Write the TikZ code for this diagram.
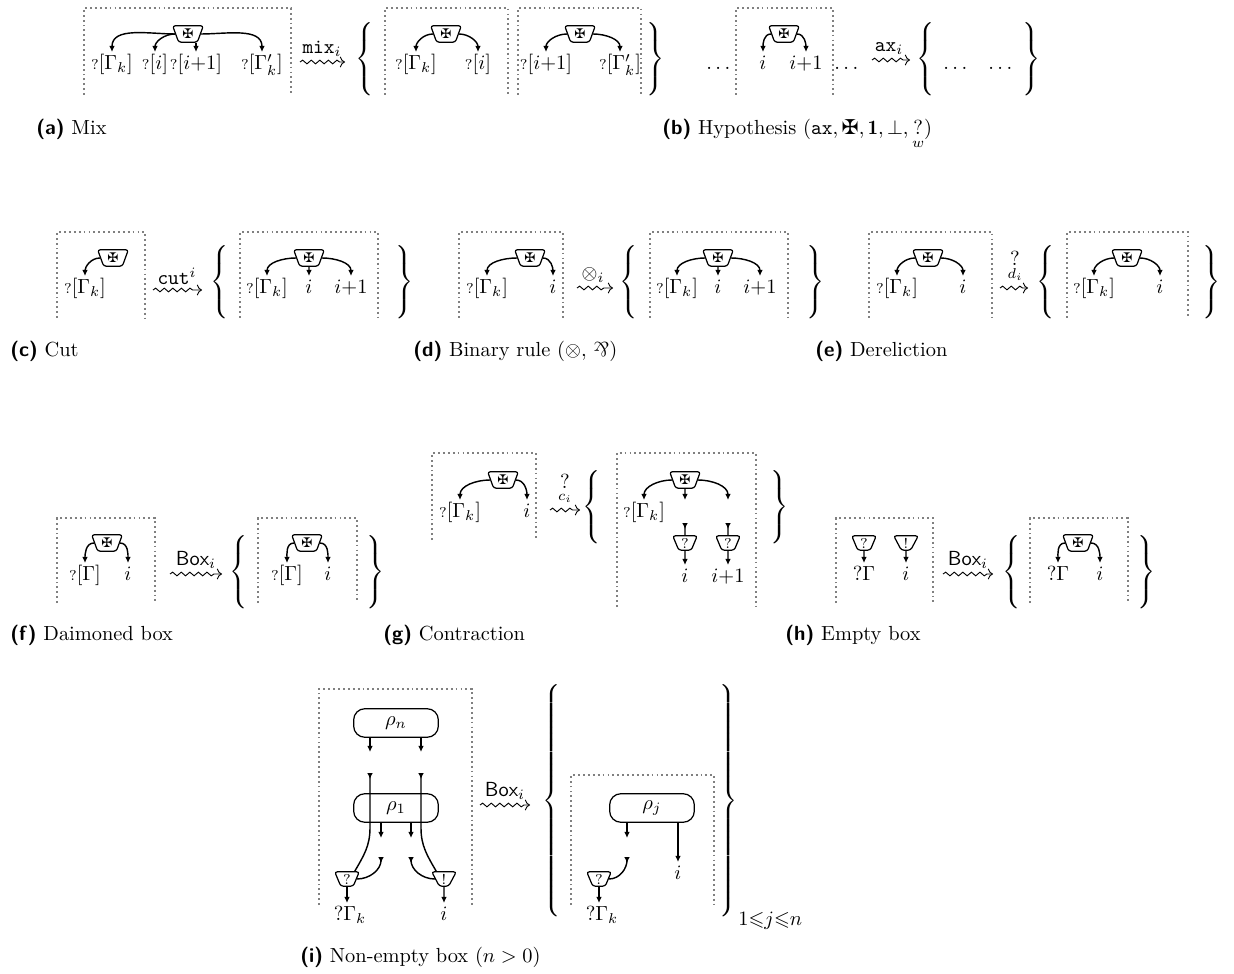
\documentclass[tikz,border=0pt]{standalone}
\usepackage{amsmath,amssymb}
\usepackage{graphicx}
\usepackage{fontspec}
\newfontfamily\dvfont{DejaVu Sans}
\usetikzlibrary{shapes.geometric,arrows.meta,decorations.pathmorphing}
\newcommand{\wq}{{\scriptstyle ?}}
\newcommand{\mcross}{{\dvfont ✠}}
\newcommand{\lbrc}[1]{$\left\{\vcenter{\hbox{\rule{0pt}{#1}}}\right.$}
\newcommand{\rbrc}[1]{$\left.\vcenter{\hbox{\rule{0pt}{#1}}}\right\}$}
\newcommand{\parrsym}{\rotatebox[origin=c]{180}{$\&$}}
\newcommand{\capl}[1]{\textsf{\textbf{(#1)}}}
\tikzset{
  dbox/.style={draw=gray, line width=0.9pt, dash pattern=on 0.9pt off 1.5pt},
  dai/.style={draw, trapezium, shape border rotate=180, trapezium stretches=true,
     trapezium left angle=70, trapezium right angle=70, minimum width=15pt, minimum height=8pt,
     inner sep=0pt, rounded corners=1.2pt, line width=0.6pt, font=\dvfont\fontsize{6.5}{6.5}\selectfont},
  cell/.style={draw, trapezium, shape border rotate=180, trapezium stretches=true,
     trapezium left angle=70, trapezium right angle=70, minimum width=12pt, minimum height=7pt,
     inner sep=0pt, rounded corners=1.2pt, line width=0.6pt, font=\scriptsize},
  lab/.style={anchor=north, inner sep=1pt, text height=7.5pt, text depth=2.5pt},
  wire/.style={line width=0.7pt, -{Latex[length=3pt,width=2.8pt]}},
  dang/.style={line width=0.7pt, {Latex[reversed,length=3pt,width=2.8pt]}-},
  squig/.style={line width=0.45pt, decorate, decoration={snake, amplitude=0.9pt, segment length=4.2pt, post length=2.5pt}, -{To[length=2.5pt]}},
  alab/.style={anchor=south, inner sep=1pt},
  brc/.style={inner sep=0pt},
  rho/.style={draw, rounded corners=5.5pt, minimum width=41.5pt, minimum height=14pt, inner sep=0pt, line width=0.6pt},
  captxt/.style={anchor=base west, inner sep=0pt},
}
\begin{document}
\begin{tikzpicture}[x=0.49pt, y=-0.49pt]
\useasboundingbox (0,0) rectangle (1234,974);

% ---------------- (a) Mix
\draw[dbox] (84,95) -- (84,8) -- (291,8) -- (291,95);
\node[dai] (da1) at (188,34) {✠};
\node[lab] (la1) at (112,52) {$\wq[\Gamma_k]$};
\node[lab] (la2) at (155,52) {$\wq[i]$};
\node[lab] (la3) at (196,52) {$\wq[i{+}1]$};
\node[lab] (la4) at (262,52) {$\wq[\Gamma'_k]$};
\draw[wire] (da1.west) to[out=180,in=90] (la1.north);
\draw[wire] (da1.west) to[out=180,in=90] (la2.north);
\draw[wire] (da1.south -| la3.north) -- (la3.north);
\draw[wire] (da1.east) to[out=0,in=90] (la4.north);
\coordinate (maA) at (300,62); \coordinate (maB) at (345,62);
\draw[squig] (maA) -- (maB);
\node[alab] (mal) at (322,59) {$\mathtt{mix}_i$};
\node[brc] (lba) at (366,59) {\lbrc{36pt}};
\draw[dbox] (385,95) -- (385,8) -- (508,8) -- (508,95);
\node[dai] (da2) at (446,34) {✠};
\node[lab] (la5) at (416,52) {$\wq[\Gamma_k]$};
\node[lab] (la6) at (478,52) {$\wq[i]$};
\draw[wire] (da2.west) to[out=180,in=90] (la5.north);
\draw[wire] (da2.east) to[out=0,in=90] (la6.north);
\draw[dbox] (518,95) -- (518,8) -- (641,8) -- (641,95);
\node[dai] (da3) at (580,34) {✠};
\node[lab] (la7) at (546,52) {$\wq[i{+}1]$};
\node[lab] (la8) at (620,52) {$\wq[\Gamma'_k]$};
\draw[wire] (da3.west) to[out=180,in=90] (la7.north);
\draw[wire] (da3.east) to[out=0,in=90] (la8.north);
\node[brc] (rba) at (654,59) {\rbrc{36pt}};
\node[captxt] (capa) at (36,135) {\capl{a} Mix};

% ---------------- (b) Hypothesis
\node[lab] (bd1) at (720,52) {$\dots$};
\draw[dbox] (736,95) -- (736,8) -- (833,8) -- (833,95);
\node[dai] (db) at (784,34) {✠};
\node[lab] (lbi) at (763,52) {$i$};
\node[lab] (lbj) at (806,52) {$i{+}1$};
\draw[wire] (db.west) to[out=180,in=90] (lbi.north);
\draw[wire] (db.east) to[out=0,in=90] (lbj.north);
\node[lab] (bd2) at (848,52) {$\dots$};
\coordinate (axA) at (872,60); \coordinate (axB) at (910,60);
\draw[squig] (axA) -- (axB);
\node[alab] (axl) at (889,57) {$\mathtt{ax}_i$};
\node[brc] (lbb) at (927,59) {\lbrc{36pt}};
\node[lab] (bd3) at (957,52) {$\dots$};
\node[lab] (bd4) at (1002,52) {$\dots$};
\node[brc] (rbb) at (1030,59) {\rbrc{36pt}};
\node[captxt] (capb) at (662,135) {\capl{b} Hypothesis $(\mathtt{ax}, \text{\mcross}, \mathbf{1}, \bot, \underset{w}{?})$};

% ---------------- (c) Cut
\draw[dbox] (57,318) -- (57,232) -- (145,232) -- (145,318);
\node[dai] (dc1) at (113,258) {✠};
\node[lab] (lc1) at (85,276) {$\wq[\Gamma_k]$};
\draw[wire] (dc1.west) to[out=180,in=90] (lc1.north);
\coordinate (cA) at (153,290); \coordinate (cB) at (202,290);
\draw[squig] (cA) -- (cB);
\node[alab] (cl) at (177,287) {$\mathtt{cut}^i$};
\node[brc] (lbc) at (221,282) {\lbrc{34pt}};
\draw[dbox] (240,318) -- (240,232) -- (378,232) -- (378,318);
\node[dai] (dc2) at (309,258) {✠};
\node[lab] (lc2) at (267,276) {$\wq[\Gamma_k]$};
\node[lab] (lc3) at (309,276) {$i$};
\node[lab] (lc4) at (351,276) {$i{+}1$};
\draw[wire] (dc2.west) to[out=180,in=90] (lc2.north);
\draw[wire] (dc2.south) -- (lc3.north);
\draw[wire] (dc2.east) to[out=0,in=90] (lc4.north);
\node[brc] (rbc) at (403,282) {\rbrc{34pt}};
\node[captxt] (capc) at (10,357) {\capl{c} Cut};

% ---------------- (d) Binary rule
\draw[dbox] (459,318) -- (459,232) -- (563,232) -- (563,318);
\node[dai] (dd1) at (530,258) {✠};
\node[lab] (ld1) at (487,276) {$\wq[\Gamma_k]$};
\node[lab] (ld2) at (553,276) {$i$};
\draw[wire] (dd1.west) to[out=180,in=90] (ld1.north);
\draw[wire] (dd1.east) to[out=0,in=90] (ld2.north);
\coordinate (dA) at (577,288); \coordinate (dB) at (613,288);
\draw[squig] (dA) -- (dB);
\node[alab] (dl) at (593,285) {$\otimes_i$};
\node[brc] (lbd) at (630,282) {\lbrc{34pt}};
\draw[dbox] (650,318) -- (650,232) -- (788,232) -- (788,318);
\node[dai] (dd2) at (718,258) {✠};
\node[lab] (ld3) at (677,276) {$\wq[\Gamma_k]$};
\node[lab] (ld4) at (718,276) {$i$};
\node[lab] (ld5) at (760,276) {$i{+}1$};
\draw[wire] (dd2.west) to[out=180,in=90] (ld3.north);
\draw[wire] (dd2.south) -- (ld4.north);
\draw[wire] (dd2.east) to[out=0,in=90] (ld5.north);
\node[brc] (rbd) at (814,282) {\rbrc{34pt}};
\node[captxt] (capd) at (413,357) {\capl{d} Binary rule $(\otimes,$ \parrsym$)$};

% ---------------- (e) Dereliction
\draw[dbox] (869,318) -- (869,232) -- (992,232) -- (992,318);
\node[dai] (de1) at (928,258) {✠};
\node[lab] (le1) at (897,276) {$\wq[\Gamma_k]$};
\node[lab] (le2) at (963,276) {$i$};
\draw[wire] (de1.west) to[out=180,in=90] (le1.north);
\draw[wire] (de1.east) to[out=0,in=90] (le2.north);
\coordinate (eA) at (1000,288); \coordinate (eB) at (1028,288);
\draw[squig] (eA) -- (eB);
\node[alab] (el) at (1015,285) {$\underset{d_i}{?}$};
\node[brc] (lbe) at (1047,282) {\lbrc{34pt}};
\draw[dbox] (1067,318) -- (1067,232) -- (1188,232) -- (1188,318);
\node[dai] (de2) at (1127,258) {✠};
\node[lab] (le3) at (1094,276) {$\wq[\Gamma_k]$};
\node[lab] (le4) at (1160,276) {$i$};
\draw[wire] (de2.west) to[out=180,in=90] (le3.north);
\draw[wire] (de2.east) to[out=0,in=90] (le4.north);
\node[brc] (rbe) at (1210,282) {\rbrc{34pt}};
\node[captxt] (cape) at (815,357) {\capl{e} Dereliction};

% ---------------- (f) Daimoned box
\draw[dbox] (57,603) -- (57,518) -- (155,518) -- (155,603);
\node[dai] (df1) at (107,543) {✠};
\node[lab] (lf1) at (85,563) {$\wq[\Gamma]$};
\node[lab] (lf2) at (128,563) {$i$};
\draw[wire] (df1.west) to[out=180,in=90] (lf1.north);
\draw[wire] (df1.east) to[out=0,in=90] (lf2.north);
\coordinate (fA) at (170,574); \coordinate (fB) at (222,574);
\draw[squig] (fA) -- (fB);
\node[alab] (fl) at (196,571) {$\mathsf{Box}_i$};
\node[brc] (lbf) at (240,572) {\lbrc{35pt}};
\draw[dbox] (258,603) -- (258,518) -- (357,518) -- (357,603);
\node[dai] (df2) at (307,543) {✠};
\node[lab] (lf3) at (287,563) {$\wq[\Gamma]$};
\node[lab] (lf4) at (328,563) {$i$};
\draw[wire] (df2.west) to[out=180,in=90] (lf3.north);
\draw[wire] (df2.east) to[out=0,in=90] (lf4.north);
\node[brc] (rbf) at (374,572) {\rbrc{35pt}};
\node[captxt] (capf) at (10,640) {\capl{f} Daimoned box};

% ---------------- (g) Contraction
\draw[dbox] (432,540) -- (432,453) -- (536,453) -- (536,540);
\node[dai] (dg1) at (503,480) {✠};
\node[lab] (lg1) at (460,500) {$\wq[\Gamma_k]$};
\node[lab] (lg2) at (527,500) {$i$};
\draw[wire] (dg1.west) to[out=180,in=90] (lg1.north);
\draw[wire] (dg1.east) to[out=0,in=90] (lg2.north);
\coordinate (gA) at (550,510); \coordinate (gB) at (580,510);
\draw[squig] (gA) -- (gB);
\node[alab] (gl) at (565,507) {$\underset{c_i}{?}$};
\node[brc] (lbg) at (593,507) {\lbrc{36pt}};
\draw[dbox] (617,607) -- (617,453) -- (756,453) -- (756,607);
\node[dai] (dg2) at (685,480) {✠};
\node[lab] (lg3) at (644,500) {$\wq[\Gamma_k]$};
\coordinate (gm) at (685,500);
\coordinate (gr) at (728,500);
\draw[wire] (dg2.west) to[out=180,in=90] (lg3.north);
\draw[wire] (dg2.south) -- (gm);
\draw[wire] (dg2.east) to[out=0,in=90] (gr);
\coordinate (gs1) at (685,523);
\coordinate (gs2) at (728,523);
\node[cell] (gq1) at (685,543) {?};
\node[cell] (gq2) at (728,543) {?};
\draw[dang] (gs1) -- (gq1.north);
\draw[dang] (gs2) -- (gq2.north);
\node[lab] (lg4) at (685,565) {$i$};
\node[lab] (lg5) at (728,565) {$i{+}1$};
\draw[wire] (gq1.south) -- (lg4.north);
\draw[wire] (gq2.south) -- (lg5.north);
\node[brc] (rbg) at (778,507) {\rbrc{36pt}};
\node[captxt] (capg) at (383,640) {\capl{g} Contraction};

% ---------------- (h) Empty box
\draw[dbox] (836,603) -- (836,518) -- (933,518) -- (933,603);
\node[cell] (hq) at (864,543) {?};
\node[cell] (hb) at (906,543) {!};
\node[lab] (lh1) at (864,563) {$?\Gamma$};
\node[lab] (lh2) at (906,563) {$i$};
\draw[wire] (hq.south) -- (lh1.north);
\draw[wire] (hb.south) -- (lh2.north);
\coordinate (hA) at (943,574); \coordinate (hB) at (993,574);
\draw[squig] (hA) -- (hB);
\node[alab] (hl) at (968,571) {$\mathsf{Box}_i$};
\node[brc] (lbh) at (1013,572) {\lbrc{35pt}};
\draw[dbox] (1030,603) -- (1030,518) -- (1128,518) -- (1128,603);
\node[dai] (dh2) at (1078,543) {✠};
\node[lab] (lh3) at (1058,563) {$?\Gamma$};
\node[lab] (lh4) at (1100,563) {$i$};
\draw[wire] (dh2.west) to[out=180,in=90] (lh3.north);
\draw[wire] (dh2.east) to[out=0,in=90] (lh4.north);
\node[brc] (rbh) at (1145,572) {\rbrc{35pt}};
\node[captxt] (caph) at (785,640) {\capl{h} Empty box};

% ---------------- (i) Non-empty box
\draw[dbox] (319,905) -- (319,689) -- (472,689) -- (472,905);
\node[rho] (rn) at (396,723) {$\rho_n$};
\node[rho] (r1) at (396,808) {$\rho_1$};
\coordinate (an1) at (370,752);
\coordinate (an2) at (421,752);
\draw[wire] (rn.south -| an1) -- (an1);
\draw[wire] (rn.south -| an2) -- (an2);
\coordinate (a11) at (381,838);
\coordinate (a12) at (411,838);
\draw[wire] (r1.south -| a11) -- (a11);
\draw[wire] (r1.south -| a12) -- (a12);
\node[cell] (iq) at (347,879) {?};
\node[cell] (ib) at (444,879) {!};
\coordinate (s1) at (370,773);
\coordinate (s2) at (421,773);
\coordinate (s3) at (381,857);
\coordinate (s4) at (411,857);
\draw[dang] (s1) -- ++(0,55) to[out=-90,in=60] (iq.north east);
\draw[dang] (s2) -- ++(0,55) to[out=-90,in=120] (ib.north west);
\draw[dang] (s3) to[out=-90,in=0] (iq.east);
\draw[dang] (s4) to[out=-90,in=180] (ib.west);
\node[lab] (li1) at (350,903) {$?\Gamma_k$};
\node[lab] (li2) at (444,903) {$i$};
\draw[wire] (iq.south) -- (li1.north -| iq.south);
\draw[wire] (ib.south) -- (li2.north);
\coordinate (iA) at (480,805); \coordinate (iB) at (530,805);
\draw[squig] (iA) -- (iB);
\node[alab] (il) at (505,802) {$\mathsf{Box}_i$};
\node[brc] (lbi2) at (553,801) {\lbrc{117pt}};
\draw[dbox] (571,905) -- (571,775) -- (714,775) -- (714,905);
\node[rho] (rj) at (652,808) {$\rho_j$};
\coordinate (aj1) at (627,838);
\draw[wire] (rj.south -| aj1) -- (aj1);
\node[cell] (jq) at (599,879) {?};
\coordinate (s5) at (627,857);
\draw[dang] (s5) to[out=-90,in=0] (jq.east);
\node[lab] (lj1) at (602,903) {$?\Gamma_k$};
\draw[wire] (jq.south) -- (lj1.north -| jq.south);
\node[lab] (lj2) at (678,862) {$i$};
\draw[wire] (rj.south -| lj2.north) -- (lj2.north);
\node[brc] (rbi2) at (727,801) {\rbrc{117pt}};
\node[anchor=base west, inner sep=0pt] (jrange) at (738,925) {$1{\leqslant}j{\leqslant}n$};
\node[captxt] (capi) at (300,962) {\capl{i} Non-empty box $(n > 0)$};
\end{tikzpicture}
\end{document}
